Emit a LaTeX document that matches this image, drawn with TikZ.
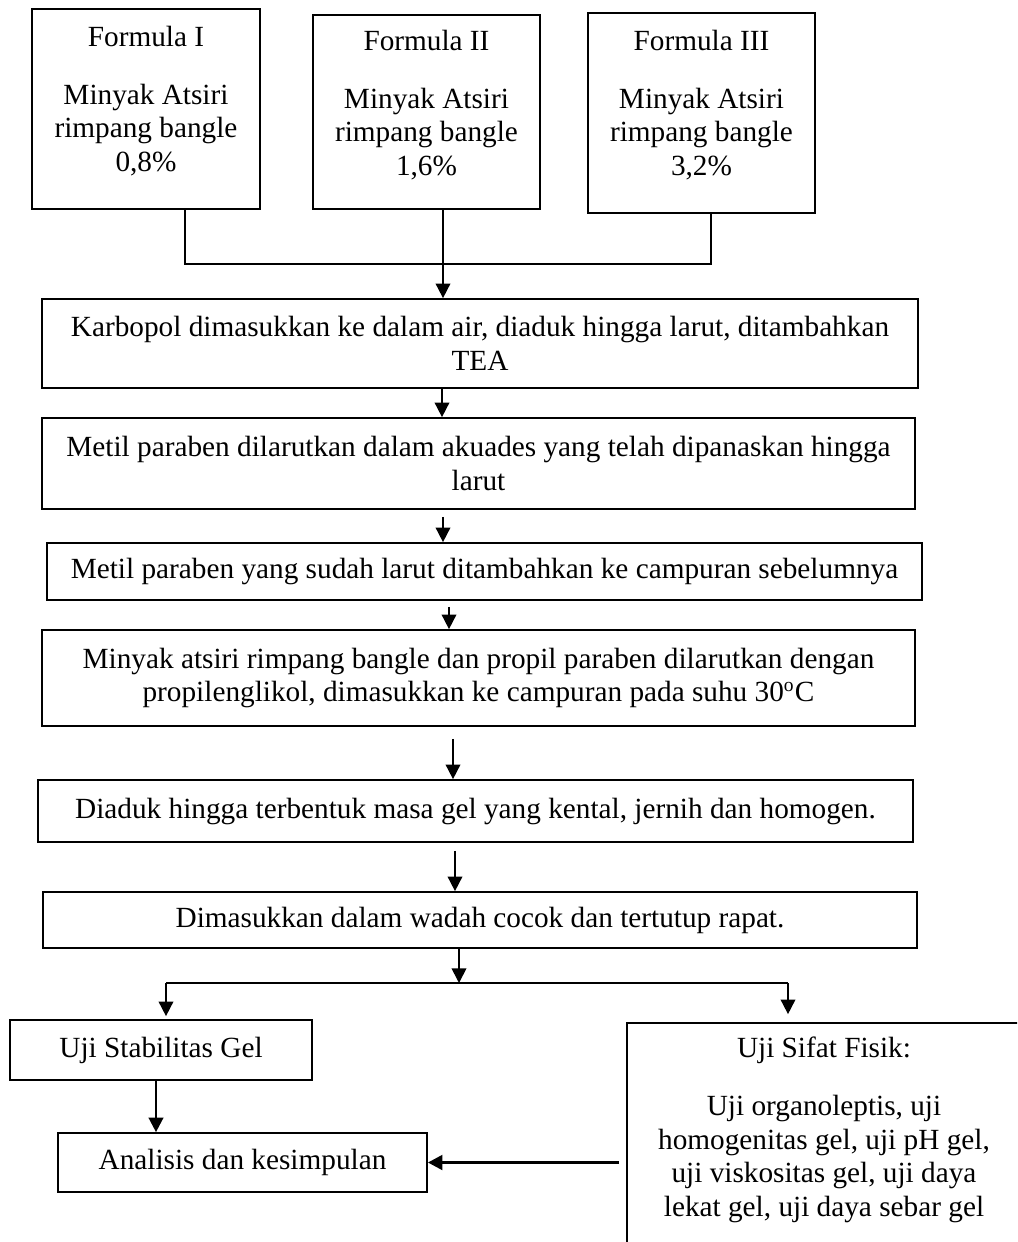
\documentclass[tikz,border=0pt]{standalone}
\usepackage{fontspec}
\setmainfont{Liberation Serif}
\usetikzlibrary{arrows.meta}
\newcommand{\pxu}{0.41pt}

\begin{document}
\begin{tikzpicture}[x=\pxu,y=-\pxu]
\tikzset{>={Triangle[width=6pt,length=6pt]}}
\tikzstyle{box}=[draw,line width=0.7pt,align=center,inner sep=0pt,font={\fontsize{12pt}{13.8pt}\selectfont}]
\tikzstyle{txt}=[align=center,inner sep=0pt,font={\fontsize{12pt}{13.8pt}\selectfont}]
\tikzstyle{line}=[line width=0.7pt]

\fill[white] (0,0) rectangle (1017,1242);
\useasboundingbox (0,0) rectangle (1017,1242);
\clip (0,0) rectangle (1017,1242);

% formula boxes
\node[box,minimum width=228*\pxu,minimum height=200*\pxu](f1) at (146,109){};
\node[box,minimum width=227*\pxu,minimum height=194*\pxu](f2) at (426.5,112){};
\node[box,minimum width=227*\pxu,minimum height=200*\pxu](f3) at (701.5,113){};
\node[txt](t1) at (146,101){Formula I\\[9.8pt]Minyak Atsiri\\rimpang bangle\\0,8\%};
\node[txt](t2) at (426.5,105){Formula II\\[9.8pt]Minyak Atsiri\\rimpang bangle\\1,6\%};
\node[txt](t3) at (701.5,105){Formula III\\[9.8pt]Minyak Atsiri\\rimpang bangle\\3,2\%};

% steps
\node[box,minimum width=876*\pxu,minimum height=89*\pxu](k) at (480,343.5){Karbopol dimasukkan ke dalam air, diaduk hingga larut, ditambahkan\\TEA};
\node[box,minimum width=873*\pxu,minimum height=91*\pxu](m) at (478.5,463.5){Metil paraben dilarutkan dalam akuades yang telah dipanaskan hingga\\larut};
\node[box,minimum width=875*\pxu,minimum height=57*\pxu](mp) at (484.5,571.5){Metil paraben yang sudah larut ditambahkan ke campuran sebelumnya};
\node[box,minimum width=873*\pxu,minimum height=96*\pxu](ma) at (478.5,678){Minyak atsiri rimpang bangle dan propil paraben dilarutkan dengan\\propilenglikol, dimasukkan ke campuran pada suhu 30\textsuperscript{o}C};
\node[box,minimum width=875*\pxu,minimum height=62*\pxu](d) at (475.5,811){Diaduk hingga terbentuk masa gel yang kental, jernih dan homogen.};
\node[box,minimum width=874*\pxu,minimum height=56*\pxu](w) at (480,920){Dimasukkan dalam wadah cocok dan tertutup rapat.};

% tests
\node[box,minimum width=302*\pxu,minimum height=60*\pxu](us) at (161,1050){Uji Stabilitas Gel};
\node[box,minimum width=369*\pxu,minimum height=59*\pxu](an) at (242.5,1162.5){Analisis dan kesimpulan};
\node[box,minimum width=403*\pxu,minimum height=237*\pxu](sf) at (828.5,1141.5){};
\node[txt](sftxt) at (824,1130){Uji Sifat Fisik:\\[9.8pt]Uji organoleptis, uji\\homogenitas gel, uji pH gel,\\uji viskositas gel, uji daya\\lekat gel, uji daya sebar gel};

% connectors
\coordinate (jl) at (185,264);
\coordinate (jr) at (711,264);
\draw[line] (f1.south -| jl) -- (jl) -- (jr) -- (f3.south -| jr);
\draw[line,->] (f2.south -| 443,0) -- (k.north -| 443,0);
\draw[line,->] (k.south -| 442,0) -- (m.north -| 442,0);
\draw[line,->,shorten <=7*\pxu] (m.south -| 443,0) -- (mp.north -| 443,0);
\draw[line,->,shorten <=6*\pxu] (mp.south -| 449,0) -- (ma.north -| 449,0);
\draw[line,->,shorten <=12*\pxu] (ma.south -| 453,0) -- (d.north -| 453,0);
\draw[line,->,shorten <=8*\pxu] (d.south -| 455,0) -- (w.north -| 455,0);

\coordinate (split) at (459,983);
\coordinate (sl) at (166,983);
\coordinate (sr) at (788,983);
\draw[line,->] (w.south -| split) -- (split);
\draw[line] (sl) -- (sr);
\draw[line,->,shorten >=3*\pxu] (sl) -- (sl |- us.north);
\draw[line,->,shorten >=8*\pxu] (sr) -- (sr |- sf.north);
\draw[line width=1pt,->] (us.south -| 156,0) -- (an.north -| 156,0);
\draw[line width=1.3pt,->] ([xshift=-7*\pxu]sf.west |- an.east) -- (an.east);
\end{tikzpicture}
\end{document}
